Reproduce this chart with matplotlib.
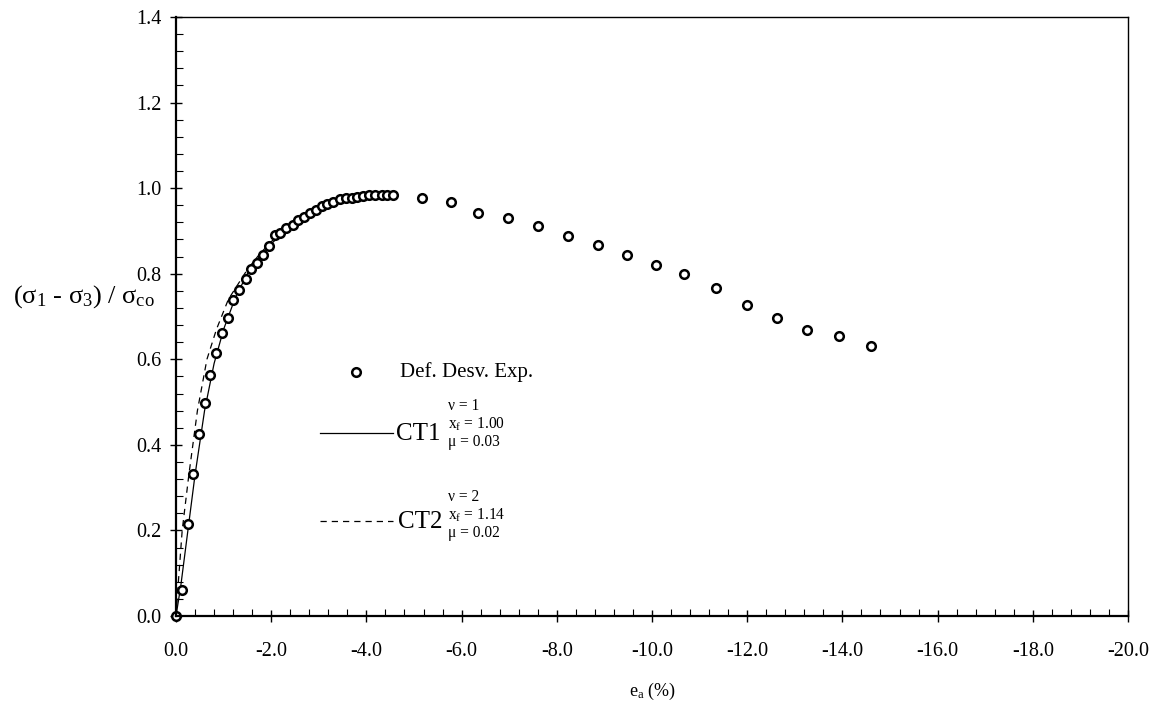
import matplotlib
matplotlib.use("Agg")
import matplotlib.pyplot as plt
from matplotlib.ticker import MultipleLocator, FormatStrFormatter
from matplotlib.lines import Line2D

plt.rcParams['font.family'] = ['Liberation Serif', 'DejaVu Serif']
plt.rcParams['mathtext.fontset'] = 'custom'
plt.rcParams['mathtext.rm'] = 'Liberation Serif'
plt.rcParams['mathtext.it'] = 'Liberation Serif'

# experimental points (axial strain %, normalised deviator stress)
exp_ea = [0.0, -0.13, -0.25, -0.36, -0.48, -0.61, -0.71, -0.84, -0.97, -1.10,
          -1.20, -1.33, -1.47, -1.57, -1.71, -1.83, -1.95, -2.08, -2.19, -2.31,
          -2.46, -2.57, -2.68, -2.81, -2.94, -3.06, -3.17, -3.30, -3.45, -3.57,
          -3.70, -3.80, -3.93, -4.05, -4.18, -4.33, -4.43, -4.56, -5.17, -5.78,
          -6.34, -6.97, -7.61, -8.24, -8.87, -9.47, -10.08, -10.67, -11.34, -12.00,
          -12.63, -13.26, -13.93, -14.60]
exp_q = [0.0, 0.061, 0.215, 0.332, 0.425, 0.497, 0.563, 0.614, 0.661, 0.696,
         0.738, 0.762, 0.787, 0.810, 0.825, 0.843, 0.864, 0.890, 0.894, 0.906,
         0.914, 0.925, 0.933, 0.942, 0.949, 0.958, 0.963, 0.967, 0.974, 0.977,
         0.978, 0.980, 0.981, 0.984, 0.984, 0.985, 0.985, 0.983, 0.977, 0.967,
         0.941, 0.930, 0.911, 0.888, 0.867, 0.843, 0.820, 0.799, 0.766, 0.727,
         0.696, 0.668, 0.654, 0.631]

# model curves
ct1_ea = [0.0, -0.10, -0.25, -0.40, -0.60, -0.80, -1.00, -1.25, -1.50, -1.75,
          -2.00, -2.50, -3.00, -3.50, -4.00, -4.50]
ct1_q = [0.0, 0.07, 0.20, 0.33, 0.48, 0.59, 0.67, 0.745, 0.80, 0.84,
         0.87, 0.92, 0.95, 0.97, 0.98, 0.985]
ct2_ea = [0.0, -0.05, -0.13, -0.27, -0.45, -0.65, -0.85, -1.10, -1.50, -1.75,
          -2.00, -2.50, -3.00, -3.50, -4.00, -4.50]
ct2_q = [0.0, 0.08, 0.20, 0.33, 0.48, 0.60, 0.67, 0.74, 0.81, 0.845,
         0.875, 0.92, 0.95, 0.97, 0.98, 0.985]

W, H = 1163, 703
fig = plt.figure(figsize=(W / 100, H / 100), dpi=100)
ax = fig.add_axes([176 / W, 1 - 616 / H, (1128 - 176) / W, (616 - 17) / H])

ax.plot(ct1_ea, ct1_q, color='black', lw=0.9)
ax.plot(ct2_ea, ct2_q, color='black', lw=0.9, dashes=(5, 4))
ax.plot(exp_ea, exp_q, 'o', ms=6.2, mfc='white', mec='black', mew=1.8,
        linestyle='none', clip_on=False)

ax.set_xlim(0, -20)
ax.set_ylim(0, 1.4)
ax.xaxis.set_major_locator(MultipleLocator(2))
ax.xaxis.set_minor_locator(MultipleLocator(0.4))
ax.yaxis.set_major_locator(MultipleLocator(0.2))
ax.yaxis.set_minor_locator(MultipleLocator(0.04))
ax.xaxis.set_major_formatter(FormatStrFormatter('%.1f'))
ax.yaxis.set_major_formatter(FormatStrFormatter('%.1f'))
ax.tick_params(which='major', direction='inout', length=9, width=1, labelsize=14.5)
ax.tick_params(which='minor', direction='in', length=5, width=0.8)
ax.tick_params(axis='x', which='major', pad=14)
ax.tick_params(axis='y', which='major', pad=6)

for s in ['left', 'bottom']:
    ax.spines[s].set_linewidth(1.6)
for s in ['top', 'right']:
    ax.spines[s].set_linewidth(1.0)

fig.text(155 / W, 1 - 297 / H, '(σ$_1$ - σ$_3$) / σ$_{co}$', ha='right', va='center', fontsize=19)
fig.text(652 / W, 1 - 691 / H, 'e$_a$ (%)', ha='center', va='center', fontsize=13)

# hand-placed legend
fig.add_artist(Line2D([356 / W], [1 - 372 / H], marker='o', ms=6.2, mfc='white',
                      mec='black', mew=1.8, transform=fig.transFigure))
fig.text(400 / W, 1 - 372 / H, 'Def. Desv. Exp.', ha='left', va='center', fontsize=15)

fig.add_artist(Line2D([320 / W, 393 / W], [1 - 433 / H] * 2, color='black', lw=0.9,
                      transform=fig.transFigure))
fig.text(396 / W, 1 - 434 / H, 'CT1', ha='left', va='center', fontsize=18)
fig.text(448 / W, 1 - 406 / H, 'ν = 1', ha='left', va='center', fontsize=11.2)
fig.text(448 / W, 1 - 424 / H, 'x$_f$ = 1.00', ha='left', va='center', fontsize=11.2)
fig.text(448 / W, 1 - 442 / H, 'μ = 0.03', ha='left', va='center', fontsize=11.2)

fig.add_artist(Line2D([320 / W, 393 / W], [1 - 521 / H] * 2, color='black', lw=0.9,
                      dashes=(5, 4), transform=fig.transFigure))
fig.text(398 / W, 1 - 522 / H, 'CT2', ha='left', va='center', fontsize=18)
fig.text(448 / W, 1 - 497 / H, 'ν = 2', ha='left', va='center', fontsize=11.2)
fig.text(448 / W, 1 - 515 / H, 'x$_f$ = 1.14', ha='left', va='center', fontsize=11.2)
fig.text(448 / W, 1 - 533 / H, 'μ = 0.02', ha='left', va='center', fontsize=11.2)

fig.savefig('out.png', dpi=100)
